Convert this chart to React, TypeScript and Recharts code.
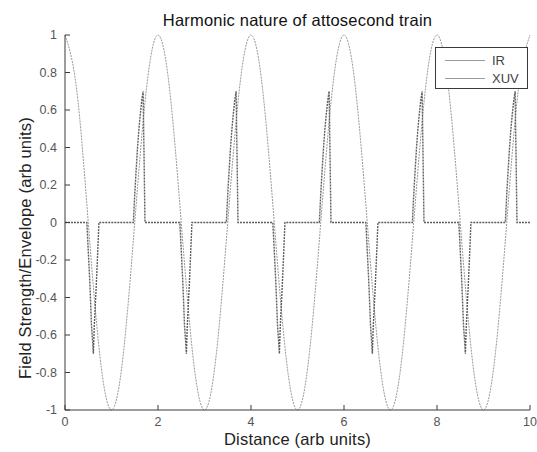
import { LineChart, Line, XAxis, YAxis, Legend } from "recharts";

// IR field, sampled every 0.25 along the distance axis
const irX = [
  0, 0.25, 0.5, 0.75, 1, 1.25, 1.5, 1.75, 2, 2.25, 2.5, 2.75, 3, 3.25, 3.5, 3.75,
  4, 4.25, 4.5, 4.75, 5, 5.25, 5.5, 5.75, 6, 6.25, 6.5, 6.75, 7, 7.25, 7.5, 7.75,
  8, 8.25, 8.5, 8.75, 9, 9.25, 9.5, 9.75, 10,
];
const irY = [
  1, 0.71, 0, -0.71, -1, -0.71, 0, 0.71, 1, 0.71, 0, -0.71, -1, -0.71, 0, 0.71,
  1, 0.71, 0, -0.71, -1, -0.71, 0, 0.71, 1, 0.71, 0, -0.71, -1, -0.71, 0, 0.71,
  1, 0.71, 0, -0.71, -1, -0.71, 0, 0.71, 1,
];

// XUV envelope: flat, with short bursts near each IR zero crossing
const xuvX = [
  0,
  0.47, 0.5, 0.53, 0.55, 0.57, 0.59, 0.61, 0.63, 0.67, 0.7, 0.73,
  1.47, 1.5, 1.53, 1.56, 1.59, 1.62, 1.65, 1.68, 1.7, 1.72,
  2.47, 2.5, 2.53, 2.55, 2.57, 2.59, 2.61, 2.63, 2.67, 2.7, 2.73,
  3.47, 3.5, 3.53, 3.56, 3.59, 3.62, 3.65, 3.68, 3.7, 3.72,
  4.47, 4.5, 4.53, 4.55, 4.57, 4.59, 4.61, 4.63, 4.67, 4.7, 4.73,
  5.47, 5.5, 5.53, 5.56, 5.59, 5.62, 5.65, 5.68, 5.7, 5.72,
  6.47, 6.5, 6.53, 6.55, 6.57, 6.59, 6.61, 6.63, 6.67, 6.7, 6.73,
  7.47, 7.5, 7.53, 7.56, 7.59, 7.62, 7.65, 7.68, 7.7, 7.72,
  8.47, 8.5, 8.53, 8.55, 8.57, 8.59, 8.61, 8.63, 8.67, 8.7, 8.73,
  9.47, 9.5, 9.53, 9.56, 9.59, 9.62, 9.65, 9.68, 9.7, 9.72,
  10,
];
const xuvY = [
  0,
  0, -0.15, -0.3, -0.42, -0.55, -0.62, -0.7, -0.55, -0.35, -0.18, 0,
  0, 0.15, 0.28, 0.4, 0.5, 0.58, 0.65, 0.7, 0.35, 0,
  0, -0.15, -0.3, -0.42, -0.55, -0.62, -0.7, -0.55, -0.35, -0.18, 0,
  0, 0.15, 0.28, 0.4, 0.5, 0.58, 0.65, 0.7, 0.35, 0,
  0, -0.15, -0.3, -0.42, -0.55, -0.62, -0.7, -0.55, -0.35, -0.18, 0,
  0, 0.15, 0.28, 0.4, 0.5, 0.58, 0.65, 0.7, 0.35, 0,
  0, -0.15, -0.3, -0.42, -0.55, -0.62, -0.7, -0.55, -0.35, -0.18, 0,
  0, 0.15, 0.28, 0.4, 0.5, 0.58, 0.65, 0.7, 0.35, 0,
  0, -0.15, -0.3, -0.42, -0.55, -0.62, -0.7, -0.55, -0.35, -0.18, 0,
  0, 0.15, 0.28, 0.4, 0.5, 0.58, 0.65, 0.7, 0.35, 0,
  0,
];

const xTicks = [0, 2, 4, 6, 8, 10];
const yTicks = [-1, -0.8, -0.6, -0.4, -0.2, 0, 0.2, 0.4, 0.6, 0.8, 1];

const irData = irX.map((x, i) => ({ x, v: irY[i] }));
const xuvData = xuvX.map((x, i) => ({ x, v: xuvY[i] }));

const FONT = '"Liberation Sans", Arial, Helvetica, sans-serif';
const IR_COLOR = "#9a9a9a";
const XUV_COLOR = "#5e5e5e";
const AXIS_COLOR = "#3a3a3a";

const LegendBox = () => (
  <div
    style={{
      width: 93,
      height: 42,
      boxSizing: "border-box",
      border: `1px solid ${AXIS_COLOR}`,
      background: "#fff",
      fontFamily: FONT,
      fontSize: 13,
      color: "#444",
      paddingTop: 3,
    }}
  >
    {[
      { name: "IR", color: IR_COLOR },
      { name: "XUV", color: IR_COLOR },
    ].map((s) => (
      <div key={s.name} style={{ display: "flex", alignItems: "center", height: 18 }}>
        <div style={{ marginLeft: 9, width: 40, borderTop: `1px solid ${s.color}` }} />
        <span style={{ marginLeft: 7 }}>{s.name}</span>
      </div>
    ))}
  </div>
);

export default function App() {
  return (
    <div style={{ position: "relative", width: 537, height: 452, background: "#fff" }}>
      <style>{"body{margin:0}"}</style>
      <div
        style={{
          position: "absolute",
          left: 65,
          width: 465,
          top: 11,
          textAlign: "center",
          fontFamily: FONT,
          fontSize: 16.5,
          letterSpacing: 0.2,
          color: "#111",
        }}
      >
        Harmonic nature of attosecond train
      </div>
      <LineChart width={537} height={452} margin={{ top: 35, right: 7, bottom: 0, left: 0 }}>
        <XAxis
          dataKey="x"
          type="number"
          domain={[0, 10]}
          ticks={xTicks}
          height={42}
          tickSize={-5}
          tickMargin={12}
          stroke={AXIS_COLOR}
          tick={{ fill: "#555", fontSize: 12.5, fontFamily: FONT }}
          allowDuplicatedCategory={false}
        />
        <XAxis
          xAxisId="top"
          orientation="top"
          dataKey="x"
          type="number"
          domain={[0, 10]}
          ticks={xTicks}
          height={0}
          tickSize={-5}
          tick={false}
          stroke={AXIS_COLOR}
        />
        <YAxis
          type="number"
          domain={[-1, 1]}
          ticks={yTicks}
          width={65}
          tickSize={-5}
          tickMargin={13}
          stroke={AXIS_COLOR}
          tick={{ fill: "#555", fontSize: 12.5, fontFamily: FONT }}
        />
        <YAxis
          yAxisId="right"
          orientation="right"
          type="number"
          domain={[-1, 1]}
          ticks={yTicks}
          width={0}
          tickSize={-5}
          tick={false}
          stroke={AXIS_COLOR}
        />
        <Legend
          layout="horizontal"
          verticalAlign="middle"
          align="center"
          wrapperStyle={{ position: "absolute", top: 47, left: 435, width: 93, height: 42 }}
          content={() => <LegendBox />}
        />
        <Line
          data={irData}
          dataKey="v"
          name="IR"
          type="natural"
          stroke={IR_COLOR}
          strokeWidth={1}
          strokeDasharray="2 1"
          dot={false}
          isAnimationActive={false}
        />
        <Line
          data={xuvData}
          dataKey="v"
          name="XUV"
          type="linear"
          stroke={XUV_COLOR}
          strokeWidth={1.4}
          strokeDasharray="2 1"
          dot={false}
          isAnimationActive={false}
        />
      </LineChart>
      <div
        style={{
          position: "absolute",
          left: 65,
          width: 465,
          top: 430,
          textAlign: "center",
          fontFamily: FONT,
          fontSize: 16.5,
          letterSpacing: 0.2,
          color: "#222",
        }}
      >
        Distance (arb units)
      </div>
      <div
        style={{
          position: "absolute",
          left: 25,
          top: 248,
          transform: "translate(-50%, -50%) rotate(-90deg)",
          whiteSpace: "nowrap",
          fontFamily: FONT,
          fontSize: 16.5,
          letterSpacing: 0.2,
          color: "#222",
        }}
      >
        Field Strength/Envelope (arb units)
      </div>
    </div>
  );
}
